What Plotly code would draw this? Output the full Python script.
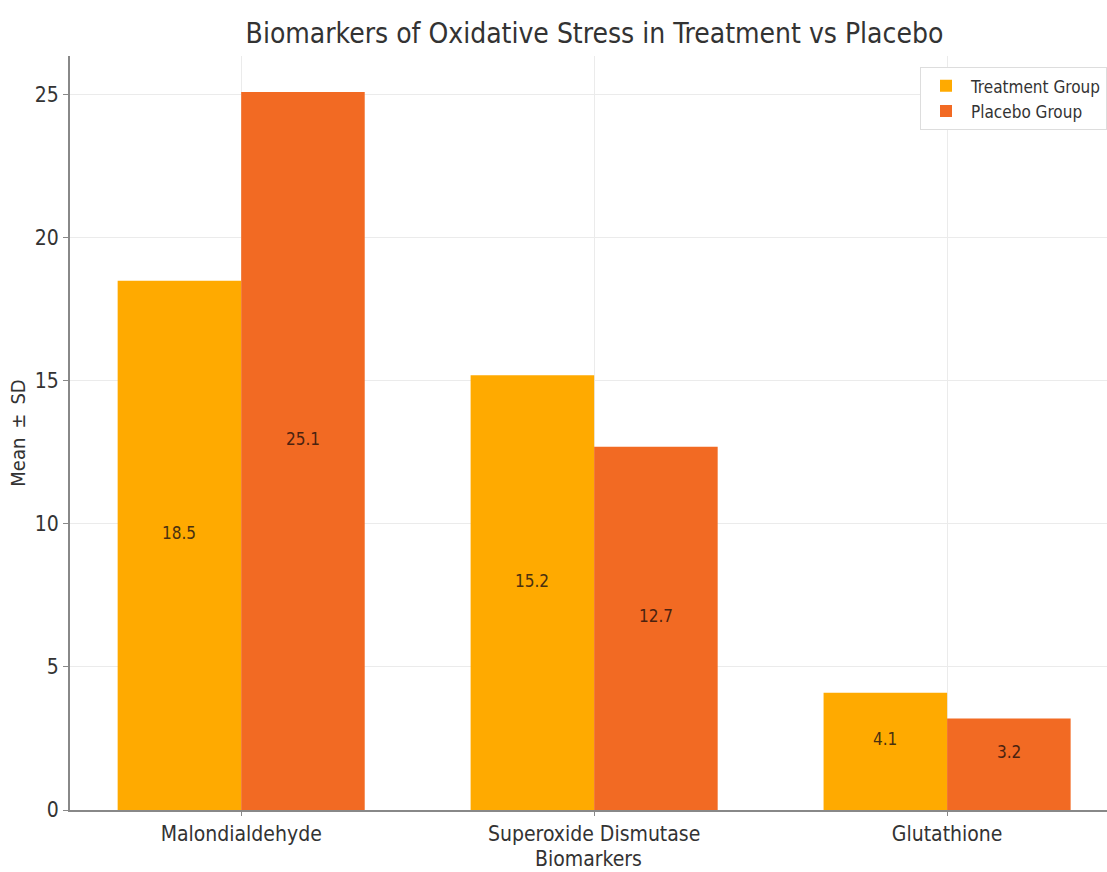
import plotly.graph_objects as go

categories = ["Malondialdehyde", "Superoxide Dismutase", "Glutathione"]
treatment = [18.5, 15.2, 4.1]
placebo = [25.1, 12.7, 3.2]
series_names = ["Treatment Group", "Placebo Group"]
colors = ["#FFAA00", "#F26A23"]
yticks = [0, 5, 10, 15, 20, 25]

FONT = "DejaVu Sans Condensed, DejaVu Sans, sans-serif"
bw = 0.35
xs = list(range(len(categories)))

fig = go.Figure()
fig.add_trace(go.Bar(x=xs, y=treatment, name=series_names[0], marker_color=colors[0],
                     width=bw, offset=-bw, marker_line_width=0))
fig.add_trace(go.Bar(x=xs, y=placebo, name=series_names[1], marker_color=colors[1],
                     width=bw, offset=0, marker_line_width=0))

annotations = []
for i, (t, p) in enumerate(zip(treatment, placebo)):
    annotations.append(dict(x=i - bw / 2, y=t / 2, text=f"{t}", showarrow=False,
                            xref="x", yref="y", yanchor="bottom",
                            font=dict(family=FONT, size=17, color="#4a3010")))
    annotations.append(dict(x=i + bw / 2, y=p / 2, text=f"{p}", showarrow=False,
                            xref="x", yref="y", yanchor="bottom",
                            font=dict(family=FONT, size=17, color="#4a2210")))

ymax = max(max(treatment), max(placebo)) * 1.05

fig.update_layout(
    width=1107, height=872,
    margin=dict(l=70, r=0, t=56, b=62),
    paper_bgcolor="white", plot_bgcolor="white",
    title=dict(text="Biomarkers of Oxidative Stress in Treatment vs Placebo",
               x=0.537, xanchor="center", y=0.962, yanchor="middle",
               font=dict(family=FONT, size=28, color="#333333")),
    font=dict(family=FONT, size=18, color="#333333"),
    barmode="group",
    showlegend=True,
    legend=dict(x=1.0, xanchor="right", y=0.985, yanchor="top",
                bgcolor="white", bordercolor="#dddddd", borderwidth=1,
                font=dict(family=FONT, size=17, color="#333333"),
                itemsizing="constant", tracegroupgap=4, itemwidth=40),
    annotations=annotations,
    xaxis=dict(range=[-0.485, 2.453], tickmode="array", tickvals=xs, ticktext=categories,
               showgrid=True, gridcolor="#ebebeb", gridwidth=1,
               showline=True, linecolor="#888888", linewidth=2,
               ticks="outside", ticklen=4, tickcolor="#888888",
               tickfont=dict(family=FONT, size=21, color="#333333"),
               title=dict(text="Biomarkers", standoff=6,
                          font=dict(family=FONT, size=21, color="#333333")),
               zeroline=False),
    yaxis=dict(range=[0, ymax], tickmode="array", tickvals=yticks,
               showgrid=True, gridcolor="#ebebeb", gridwidth=1,
               showline=True, linecolor="#888888", linewidth=2,
               ticks="outside", ticklen=5, tickcolor="#888888",
               tickfont=dict(family=FONT, size=21, color="#333333"),
               title=dict(text="Mean\u2002\u00b1\u2002SD", standoff=4,
                          font=dict(family=FONT, size=20, color="#333333")),
               zeroline=False),
)

fig.write_html("out.html")
